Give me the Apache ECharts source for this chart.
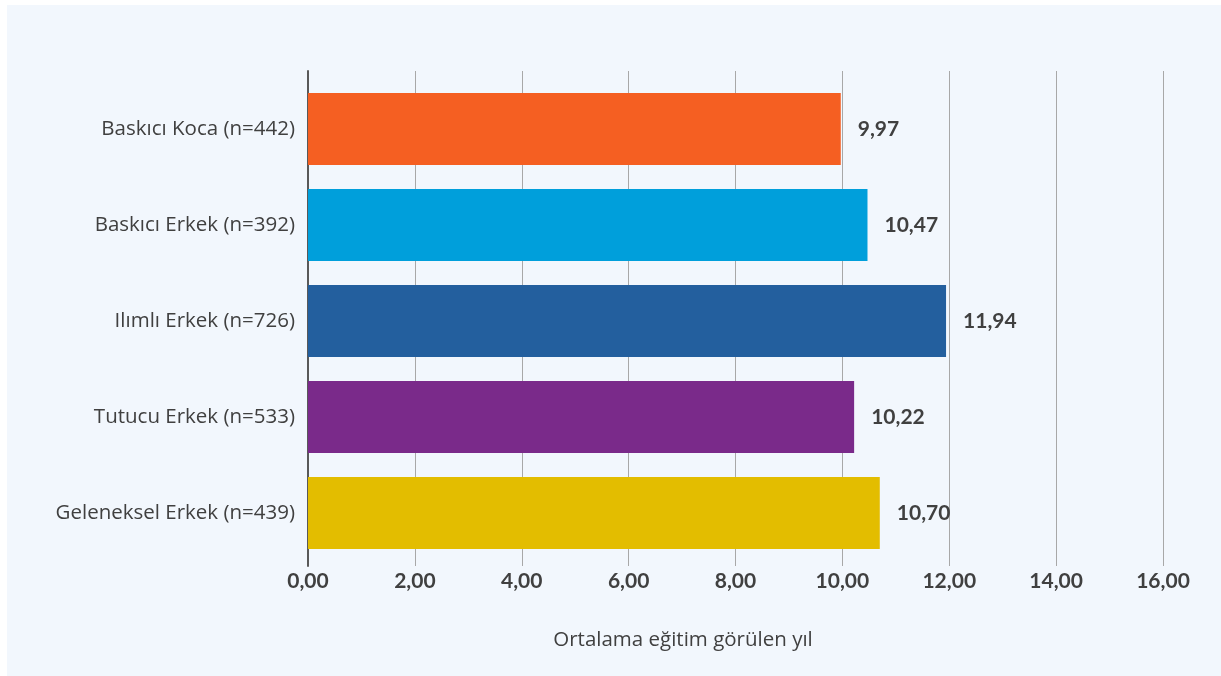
<!DOCTYPE html>
<html><head><meta charset="utf-8">
<script src="https://cdn.jsdelivr.net/npm/echarts@6/dist/echarts.min.js"></script>
<style>html,body{margin:0;padding:0;background:#fff}#c{width:1221px;height:676px}</style>
</head><body><div id="c"></div>
<script>
const categories = ['Baskıcı Koca (n=442)', 'Baskıcı Erkek (n=392)', 'Ilımlı Erkek (n=726)', 'Tutucu Erkek (n=533)', 'Geleneksel Erkek (n=439)'];
const values = [9.97, 10.47, 11.94, 10.22, 10.70];
const barColors = ['#f55f22', '#009fdb', '#235f9e', '#7a2a8a', '#e3bd00'];
const axisTitle = 'Ortalama eğitim görülen yıl';
const xMin = 0, xMax = 16, xStep = 2;

const fmt = v => v.toFixed(2).replace('.', ',');
const chart = echarts.init(document.getElementById('c'));
chart.setOption({
  backgroundColor: '#ffffff',
  animation: false,
  graphic: [
    { type: 'rect', left: 7, top: 5, z: -10, shape: { width: 1214, height: 671 }, style: { fill: '#f2f7fd' } },
    { type: 'text', x: 683, y: 640, style: { text: axisTitle, textAlign: 'center', textVerticalAlign: 'middle', font: '20.5px "Open Sans"', fill: '#404040' } }
  ],
  grid: [
    { left: 308, right: 58, top: 71, height: 495 },
    { left: 308, right: 58, top: 81, height: 480 }
  ],
  xAxis: [
    { gridIndex: 0, type: 'value', min: xMin, max: xMax, interval: xStep,
      axisLine: { show: false }, axisTick: { show: false },
      splitLine: { show: true, lineStyle: { color: '#a8a8a8', width: 1 } },
      axisLabel: { formatter: fmt, color: '#404040', fontSize: 21, fontWeight: 'bold', fontFamily: 'Lato', margin: 5 } },
    { gridIndex: 1, type: 'value', min: xMin, max: xMax, show: false }
  ],
  yAxis: [
    { gridIndex: 0, type: 'category', data: [''], axisLine: { show: true, lineStyle: { color: '#595959', width: 2 } },
      axisTick: { show: false }, axisLabel: { show: false }, splitLine: { show: false } },
    { gridIndex: 1, type: 'category', inverse: true, data: categories,
      axisLine: { show: false }, axisTick: { show: false },
      axisLabel: { color: '#404040', fontSize: 20.5, fontFamily: 'Open Sans', margin: 13 } }
  ],
  series: [{
    type: 'bar', xAxisIndex: 1, yAxisIndex: 1, barWidth: 72,
    data: values.map((v, i) => ({ value: v, itemStyle: { color: barColors[i] } })),
    label: { show: true, position: 'right', distance: 17, formatter: p => fmt(p.value),
      color: '#404040', fontSize: 21, fontWeight: 'bold', fontFamily: 'Lato' }
  }]
});
</script></body></html>
